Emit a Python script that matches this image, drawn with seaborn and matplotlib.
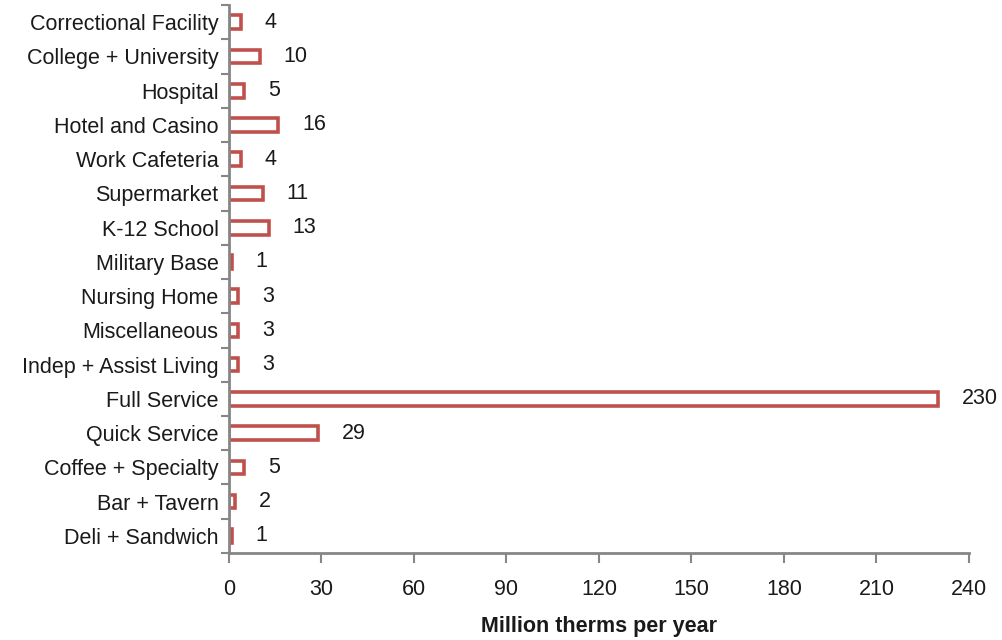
import matplotlib
matplotlib.use("Agg")
import matplotlib.pyplot as plt
import seaborn as sns
import pandas as pd
from matplotlib.ticker import FixedLocator

categories = ["Correctional Facility", "College + University", "Hospital", "Hotel and Casino",
              "Work Cafeteria", "Supermarket", "K-12 School", "Military Base", "Nursing Home",
              "Miscellaneous", "Indep + Assist Living", "Full Service", "Quick Service",
              "Coffee + Specialty", "Bar + Tavern", "Deli + Sandwich"]
values = [4, 10, 5, 16, 4, 11, 13, 1, 3, 3, 3, 230, 29, 5, 2, 1]
x_ticks = [0, 30, 60, 90, 120, 150, 180, 210, 240]

df = pd.DataFrame({"category": categories, "value": values})

sns.set_theme(style="white")
plt.rcParams['font.family'] = ['Liberation Sans', 'DejaVu Sans']

fig = plt.figure(figsize=(10.02, 6.4), dpi=100)
ax = fig.add_axes([0.2285, 0.136, 0.7385, 0.856])

red = "#C0504D"
grey = "#868686"
txt = "#1a1a1a"
fs = 15.5
sns.barplot(data=df, x="value", y="category", orient="h", ax=ax,
            color="white", edgecolor=red, linewidth=2.6, width=0.4)

ax.bar_label(ax.containers[0], labels=[str(v) for v in values], padding=17,
             fontsize=fs, color=txt)

ax.set_xlim(0, 240)
ax.set_ylim(len(categories) - 0.5, -0.5)
ax.xaxis.set_major_locator(FixedLocator(x_ticks))
ax.set_xticklabels([str(t) for t in x_ticks])
ax.yaxis.set_minor_locator(FixedLocator([i - 0.5 for i in range(len(categories) + 1)]))

for s in ["top", "right"]:
    ax.spines[s].set_visible(False)
for s in ["left", "bottom"]:
    ax.spines[s].set_color(grey)
    ax.spines[s].set_linewidth(2)

ax.tick_params(axis="x", which="major", direction="out", length=7, width=1.5, color=grey,
               pad=12, labelsize=fs, labelcolor=txt, bottom=True)
ax.tick_params(axis="y", which="major", length=0, pad=7.5, labelsize=fs, labelcolor=txt)
ax.tick_params(axis="y", which="minor", direction="out", length=6, width=1.5, color=grey, left=True)

ax.set_ylabel("")
ax.set_xlabel("Million therms per year", fontsize=fs, fontweight="bold", color=txt, labelpad=11)

fig.savefig("out.png", dpi=100)
